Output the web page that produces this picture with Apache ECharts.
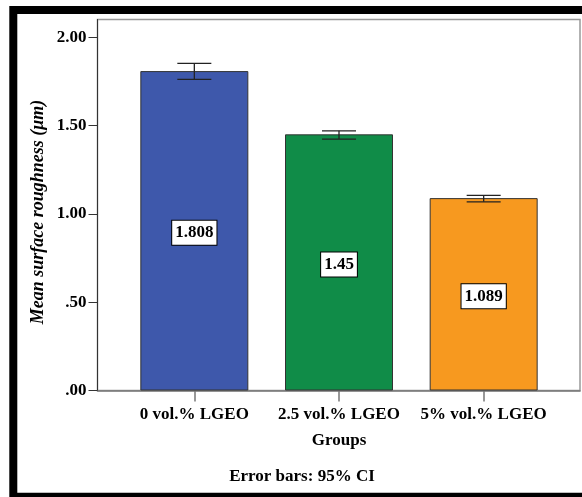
<!DOCTYPE html>
<html>
<head>
<meta charset="utf-8">
<style>
html,body{margin:0;padding:0;background:#fff;}
#chart{width:582px;height:497px;}
</style>
<script src="https://cdn.jsdelivr.net/npm/echarts@6/dist/echarts.min.js"></script>
</head>
<body>
<div id="chart"></div>
<script>
var categories = ['0 vol.% LGEO', '2.5 vol.% LGEO', '5% vol.% LGEO'];
var means = [1.808, 1.45, 1.089];
var ciLow = [1.761, 1.423, 1.068];
var ciHigh = [1.852, 1.470, 1.104];
var yTicks = [0, 0.5, 1.0, 1.5, 2.0];
var barColors = ['#3E58AB', '#108C48', '#F7991F'];

var FONT = '"Liberation Serif", "Times New Roman", serif';
var chart = echarts.init(document.getElementById('chart'));

function fmtTick(v) {
  var s = v.toFixed(2);
  if (s.charAt(0) === '0') s = s.substring(1);
  return s;
}

var option = {
  animation: false,
  backgroundColor: '#fff',
  grid: [
    { left: 97.5, right: 2, top: 19.5, bottom: 106.5, show: true, borderColor: '#999', borderWidth: 1.5, backgroundColor: 'transparent' },
    { left: 122, width: 434, top: 19.5, bottom: 106.5 }
  ],
  xAxis: [
    { gridIndex: 0, type: 'value', min: 0, max: 1, axisLine: { show: true, onZero: false, lineStyle: { color: '#777', width: 1.5 } }, axisTick: { show: false }, axisLabel: { show: false }, splitLine: { show: false } },
    {
      gridIndex: 1, type: 'category', data: categories,
      axisLine: { show: false },
      axisTick: { show: true, alignWithLabel: true, length: 11, lineStyle: { color: '#777', width: 1.5 } },
      axisLabel: { margin: 16, color: '#000', fontFamily: FONT, fontWeight: 'bold', fontSize: 17, interval: 0 },
      name: 'Groups', nameLocation: 'middle', nameGap: 42,
      nameTextStyle: { color: '#000', fontFamily: FONT, fontWeight: 'bold', fontSize: 17 }
    }
  ],
  yAxis: [
    {
      gridIndex: 0, type: 'value', min: 0, max: 2.1,
      axisLine: { show: true, lineStyle: { color: '#333', width: 1 } },
      axisTick: { show: true, length: 9, customValues: yTicks, lineStyle: { color: '#333', width: 1 } },
      axisLabel: { margin: 11, customValues: yTicks, formatter: fmtTick, color: '#000', fontFamily: FONT, fontWeight: 'bold', fontSize: 17 },
      splitLine: { show: false }
    },
    { gridIndex: 1, type: 'value', min: 0, max: 2.1, show: false }
  ],
  series: [
    {
      type: 'bar', xAxisIndex: 1, yAxisIndex: 1, barWidth: 108,
      data: means.map(function (v, i) {
        return { value: v, itemStyle: { color: barColors[i] } };
      }),
      itemStyle: { borderColor: '#333', borderWidth: 1 },
      label: {
        show: true, position: 'inside', offset: [0, 2],
        formatter: function (p) { return String(p.value); },
        color: '#000', fontFamily: FONT, fontWeight: 'bold', fontSize: 17,
        backgroundColor: '#fff', borderColor: '#000', borderWidth: 1,
        padding: [4, 3, 3, 3]
      }
    },
    {
      type: 'custom', xAxisIndex: 1, yAxisIndex: 1, z: 5,
      data: categories.map(function (c, i) { return [i, ciLow[i], ciHigh[i]]; }),
      renderItem: function (params, api) {
        var lo = api.coord([api.value(0), api.value(1)]);
        var hi = api.coord([api.value(0), api.value(2)]);
        var hw = 17;
        var st = { stroke: '#222', lineWidth: 1.3 };
        return {
          type: 'group',
          children: [
            { type: 'line', shape: { x1: lo[0], y1: lo[1], x2: hi[0], y2: hi[1] }, style: st },
            { type: 'line', shape: { x1: lo[0] - hw, y1: lo[1], x2: lo[0] + hw, y2: lo[1] }, style: st },
            { type: 'line', shape: { x1: hi[0] - hw, y1: hi[1], x2: hi[0] + hw, y2: hi[1] }, style: st }
          ]
        };
      }
    }
  ],
  graphic: [
    {
      type: 'text', x: 38, y: 212, rotation: Math.PI / 2,
      style: {
        text: 'Mean surface roughness (μm)', fill: '#000',
        font: 'italic bold 18px ' + FONT, textAlign: 'center', textVerticalAlign: 'middle'
      }
    },
    {
      type: 'text', x: 302, y: 477,
      style: {
        text: 'Error bars: 95% CI', fill: '#000',
        font: 'bold 17px ' + FONT, textAlign: 'center', textVerticalAlign: 'middle'
      }
    },
    {
      type: 'rect', z: 100, silent: true,
      shape: { x: 13.3, y: 10, width: 600, height: 486.7 },
      style: { fill: 'none', stroke: '#000', lineWidth: 8 }
    }
  ]
};
chart.setOption(option);
</script>
</body>
</html>
